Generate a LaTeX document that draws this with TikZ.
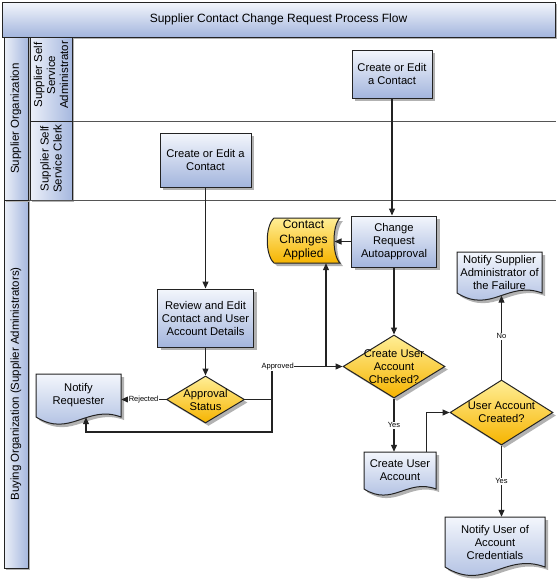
\documentclass[tikz,border=0pt]{standalone}
\usepackage{fontspec}
\setmainfont{Liberation Sans}
\usetikzlibrary{shadows,shapes.geometric,calc,arrows.meta}
\definecolor{bluetop}{RGB}{243,246,252}
\definecolor{bluebot}{RGB}{163,181,221}
\definecolor{hdrleft}{RGB}{236,240,249}
\definecolor{hdrright}{RGB}{166,184,223}
\definecolor{yeltop}{RGB}{255,238,150}
\definecolor{yelbot}{RGB}{246,180,0}
\definecolor{edgec}{RGB}{35,35,35}
\definecolor{shadowc}{RGB}{178,178,178}
\definecolor{lanec}{RGB}{85,85,85}
\tikzset{
  txtbase/.style={font=\fontsize{11.2}{13}\selectfont, align=center, inner sep=0pt},
  shad/.style={drop shadow={shadow xshift=3pt, shadow yshift=-3pt, fill=shadowc, opacity=1}},
  procbox/.style={txtbase, rectangle, draw=edgec, line width=1pt, top color=bluetop, bottom color=bluebot, shad},
  decision/.style={txtbase, diamond, draw=edgec, line width=1pt, top color=yeltop, bottom color=yelbot, shad},
  hdrbox/.style={rectangle, draw=edgec, line width=1pt, left color=hdrleft, right color=hdrright, inner sep=0pt,
    drop shadow={shadow xshift=2pt, shadow yshift=-2pt, fill=shadowc, opacity=1}},
  hdrtext/.style={txtbase, font=\fontsize{11.5}{13}\selectfont, rotate=90},
  docnode/.style={txtbase},
  docfill/.style={draw=edgec, line width=1pt, top color=bluetop, bottom color=bluebot},
  conn/.style={draw=edgec, line width=1.1pt},
  arr/.style={conn, -{Triangle[length=7pt,width=6pt]}},
  lbl/.style={font=\fontsize{7.5}{9}\selectfont, fill=white, inner sep=0.8pt},
  lane/.style={draw=lanec, line width=0.8pt},
}
% document shape: name, cx, cy, w, h, text
\newcommand{\docshape}[6]{%
  \pgfmathsetmacro\dxa{#2-#4/2}\pgfmathsetmacro\dxb{#2+#4/2}%
  \pgfmathsetmacro\dya{#3-#5/2}\pgfmathsetmacro\dyb{#3+#5/2}%
  \pgfmathsetmacro\dcu{0.15*#4}\pgfmathsetmacro\dcd{0.25*#4}%
  \pgfmathsetmacro\dqa{\dxa+0.4*#4}\pgfmathsetmacro\dqb{\dxb-0.4*#4}%
  \begin{scope}[shift={(3pt,-3pt)}]
    \fill[shadowc] (\dxa,\dya) -- (\dxb,\dya) -- (\dxb,\dyb) .. controls (\dqb,{\dyb-\dcu}) and (\dqa,{\dyb+\dcd}) .. (\dxa,\dyb) -- cycle;
  \end{scope}
  \shadedraw[docfill] (\dxa,\dya) -- (\dxb,\dya) -- (\dxb,\dyb) .. controls (\dqb,{\dyb-\dcu}) and (\dqa,{\dyb+\dcd}) .. (\dxa,\dyb) -- cycle;
  \node[docnode, minimum width=#4pt, minimum height=#5pt] (#1) at (#2,#3) {#6};
}
\begin{document}
\begin{tikzpicture}[x=1pt,y=-1pt]
\useasboundingbox (0,0) rectangle (558,582);

% title bar
\node[rectangle, draw=edgec, line width=1pt, top color=bluetop, bottom color=bluebot,
  font=\fontsize{12}{14}\selectfont, inner sep=0pt, minimum width=553pt, minimum height=35pt,
  drop shadow={shadow xshift=2pt, shadow yshift=-2pt, fill=shadowc, opacity=1}] (title) at (278.5,19.5)
  {Supplier Contact Change Request Process Flow};

% lane headers
\node[hdrbox, minimum width=24pt, minimum height=368pt] (lhBuy) at (16,384) {};
\node[hdrbox, minimum width=24pt, minimum height=163pt] (lhSup) at (16,118.5) {};
\node[hdrbox, minimum width=42pt, minimum height=84pt] (lhAdm) at (51,79) {};
\node[hdrbox, minimum width=42pt, minimum height=79pt] (lhClk) at (51,160.5) {};
\node[hdrtext] (tSup) at (16,118.5) {Supplier Organization};
\node[hdrtext] (tBuy) at (16,384) {Buying Organization (Supplier Administrators)};
\node[hdrtext] (tAdm) at (51,75) {Supplier Self\\Service\\Administrator};
\node[hdrtext] (tClk) at (51,158.5) {Supplier Self\\Service Clerk};

% lane separators
\draw[lane] (lhAdm.south east) -- (lhAdm.south east -| title.east);
\draw[lane] (lhSup.south east) -- (lhSup.south east -| title.east);

% process boxes
\node[procbox, minimum width=80pt, minimum height=48pt] (a1) at (392,74) {Create or Edit\\a Contact};
\node[procbox, minimum width=91pt, minimum height=54pt] (c1) at (205.5,160) {Create or Edit a\\Contact};
\node[procbox, minimum width=96pt, minimum height=58pt] (r) at (205.5,318) {Review and Edit\\Contact and User\\Account Details};
\node[procbox, minimum width=85pt, minimum height=51pt] (car) at (394,241.5) {Change\\Request\\Autoapproval};

% decisions
\node[decision, minimum width=78pt, minimum height=47pt,
  label={[txtbase,name=apt]center:Approval\\Status}] (ap) at (205.5,399.5) {};
\node[decision, minimum width=102pt, minimum height=63pt,
  label={[txtbase,name=cuct]center:Create User\\Account\\Checked?}] (cuc) at (394,366.5) {};
\node[decision, minimum width=103pt, minimum height=65pt,
  label={[txtbase,name=uact]center:User Account\\Created?}] (uac) at (501.5,412.5) {};

% stored data
\begin{scope}[shift={(3pt,-3pt)}]
  \fill[shadowc] (274,218) -- (340,218) .. controls (332,226) and (332,255) .. (340,263) -- (274,263) .. controls (265,255) and (265,226) .. (274,218) -- cycle;
\end{scope}
\shadedraw[draw=edgec, line width=1pt, top color=yeltop, bottom color=yelbot]
  (274,218) -- (340,218) .. controls (332,226) and (332,255) .. (340,263) -- (274,263) .. controls (265,255) and (265,226) .. (274,218) -- cycle;
\node[txtbase, font=\fontsize{12}{14.5}\selectfont, minimum width=73pt, minimum height=45pt] (cca) at (303.5,240.5) {Contact\\Changes\\Applied};
\coordinate (ccaR) at (334.5,241.5);

% documents
\docshape{nr}{78.5}{395.5}{85}{43}{Notify\\Requester}
\docshape{cua}{400}{470.5}{72}{37}{Create User\\Account}
\docshape{nsa}{499.5}{272.5}{85}{41}{Notify Supplier\\Administrator of\\the Failure}
\docshape{nu}{495}{542}{100}{50}{Notify User of\\Account\\Credentials}

% junction coordinates
\coordinate (jR) at (272,432);
\coordinate (jL) at (86,432);
\coordinate (jU) at (272,366.5);
\coordinate (jC) at (326,366.5);

% connectors
\draw[arr] (a1.south) -- (a1.south |- car.north);
\draw[arr] (car.west) -- (car.west -| ccaR);
\draw[arr] (car.south) -- (cuc.north);
\draw[arr] (c1.south) -- (r.north);
\draw[arr] (r.south) -- (ap.north);
\draw[arr] (ap.west) -- node[lbl] (lRej) {Rejected} (ap.west -| nr.east);
\draw[arr] (ap.east) -| (jR) -- (jL) -- (jL |- nr.south);
\draw[arr] (ap.east) -| (jU) -- node[lbl, pos=0.08] (lApp) {Approved} (cuc.west);
\draw[arr] (jC) -- (jC |- cca.south);
\draw[arr] (cuc.south) -- node[lbl] (lYes1) {Yes} (cuc.south |- cua.north);
\draw[arr] ($(cua.north east)+(-10,0)$) |- (uac.west);
\draw[arr, shorten >=2.5pt] (uac.north) -- node[lbl] (lNo) {No} (uac.north |- nsa.south);
\draw[arr] (uac.south) -- node[lbl] (lYes2) {Yes} (uac.south |- nu.north);
\end{tikzpicture}
\end{document}
